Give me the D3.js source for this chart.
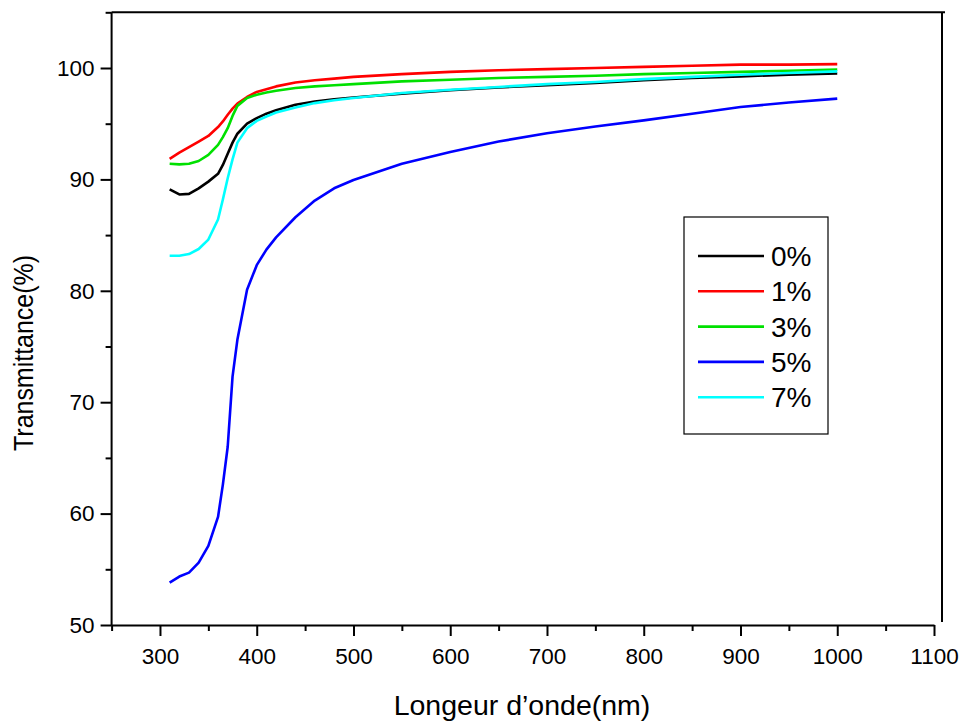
<!DOCTYPE html>
<html>
<head>
<meta charset="utf-8">
<script src="https://cdn.jsdelivr.net/npm/d3@7"></script>
<style>
  html, body { margin: 0; padding: 0; background: #fff; }
  svg text { font-family: "Liberation Sans", Arial, sans-serif; fill: #000; }
</style>
</head>
<body>
<div id="chart"></div>
<script>
// wavelengths (nm), shared by every sample
const wavelengths = [310, 320, 330, 340, 350, 360, 365, 370, 375, 380, 390, 400, 410, 420,
    440, 460, 480, 500, 550, 600, 650, 700, 750, 800, 850, 900, 950, 1000];

// transmittance (%)
const t0 = [89.1, 88.65, 88.7, 89.2, 89.8, 90.5, 91.3, 92.3, 93.3, 94.1, 95.0, 95.5, 95.9, 96.2,
    96.7, 97.0, 97.2, 97.35, 97.7, 98.0, 98.25, 98.45, 98.65, 98.9, 99.1, 99.25, 99.4, 99.5];
const t1 = [91.85, 92.4, 92.9, 93.4, 93.9, 94.7, 95.2, 95.8, 96.35, 96.8, 97.4, 97.85, 98.1, 98.35,
    98.7, 98.9, 99.05, 99.2, 99.45, 99.65, 99.8, 99.9, 100.0, 100.1, 100.2, 100.3, 100.3, 100.35];
const t3 = [91.4, 91.35, 91.4, 91.65, 92.2, 93.1, 93.8, 94.6, 95.7, 96.6, 97.3, 97.6, 97.8, 97.95,
    98.2, 98.35, 98.45, 98.55, 98.8, 98.95, 99.1, 99.2, 99.3, 99.45, 99.55, 99.65, 99.75, 99.85];
const t5 = [53.8, 54.35, 54.7, 55.6, 57.1, 59.7, 62.6, 66.0, 72.3, 75.6, 80.1, 82.3, 83.7, 84.8,
    86.6, 88.1, 89.2, 89.95, 91.4, 92.45, 93.4, 94.15, 94.75, 95.3, 95.9, 96.5, 96.9, 97.25];
const t7 = [83.15, 83.15, 83.3, 83.75, 84.6, 86.4, 88.2, 90.1, 91.8, 93.3, 94.6, 95.25, 95.65, 96.0,
    96.45, 96.85, 97.1, 97.3, 97.75, 98.05, 98.3, 98.55, 98.75, 99.0, 99.2, 99.4, 99.55, 99.7];

const seriesNames = ["0%", "1%", "3%", "5%", "7%"];
const seriesColors = ["#000000", "#ff0000", "#00e000", "#0000ff", "#00ffff"];
const seriesValues = [t0, t1, t3, t5, t7];

const xMajorTicks = [300, 400, 500, 600, 700, 800, 900, 1000, 1100];
const xMinorTicks = [250, 350, 450, 550, 650, 750, 850, 950, 1050];
const yMajorTicks = [50, 60, 70, 80, 90, 100];
const yMinorTicks = [55, 65, 75, 85, 95, 105];

(function () {
    const W = 965, H = 723;
    const left = 111.6, right = 934, top = 12.3, bottom = 625;

    const svg = d3.select("#chart").append("svg")
        .attr("width", W)
        .attr("height", H);

    const x = d3.scaleLinear().domain([250, 1100]).range([left, right]);
    const y = d3.scaleLinear().domain([50, 105]).range([bottom, top]);

    // frame lines on top / right (slightly offset, like the original export)
    svg.append("line")
        .attr("x1", left).attr("x2", 945)
        .attr("y1", top).attr("y2", top)
        .attr("stroke", "#000").attr("stroke-width", 2);
    svg.append("line")
        .attr("x1", 942).attr("x2", 942)
        .attr("y1", top).attr("y2", 622)
        .attr("stroke", "#000").attr("stroke-width", 2);

    // x axis
    svg.append("g")
        .attr("transform", `translate(0,${bottom})`)
        .call(d3.axisBottom(x).tickValues(xMajorTicks).tickFormat(d3.format("d"))
            .tickSize(11).tickSizeOuter(0).tickPadding(12));
    svg.append("g")
        .attr("transform", `translate(0,${bottom})`)
        .call(d3.axisBottom(x).tickValues(xMinorTicks).tickSize(6).tickSizeOuter(0).tickFormat(""))
        .select(".domain").remove();

    // y axis
    const yAxis = svg.append("g")
        .attr("transform", `translate(${left},0)`)
        .call(d3.axisLeft(y).tickValues(yMajorTicks).tickFormat(d3.format("d"))
            .tickSize(11).tickSizeOuter(0).tickPadding(6));
    svg.append("g")
        .attr("transform", `translate(${left},0)`)
        .call(d3.axisLeft(y).tickValues(yMinorTicks).tickSize(6).tickSizeOuter(0).tickFormat(""))
        .select(".domain").remove();

    svg.selectAll(".domain")
        .attr("stroke", "#000")
        .attr("stroke-width", 2);
    svg.selectAll(".tick line")
        .attr("stroke", "#000")
        .attr("stroke-width", 2);
    svg.selectAll(".tick text")
        .style("font-family", "'Liberation Sans', Arial, sans-serif")
        .style("font-size", "22.5px")
        .attr("fill", "#000");
    yAxis.select(".domain").attr("d", `M0,${bottom}V${top}`);

    // axis titles
    svg.append("text")
        .attr("x", 522)
        .attr("y", 715)
        .attr("text-anchor", "middle")
        .style("font-size", "28.5px")
        .text("Longeur d\u2019onde(nm)");

    svg.append("text")
        .attr("transform", "translate(33,353) rotate(-90)")
        .attr("text-anchor", "middle")
        .attr("textLength", 196)
        .attr("lengthAdjust", "spacingAndGlyphs")
        .style("font-size", "27px")
        .text("Transmittance(%)");

    // curves
    const line = d3.line()
        .x((d, i) => x(wavelengths[i]))
        .y(d => y(d));

    svg.append("g")
        .selectAll("path")
        .data(seriesValues)
        .enter()
        .append("path")
        .attr("d", d => line(d))
        .attr("fill", "none")
        .attr("stroke", (d, i) => seriesColors[i])
        .attr("stroke-width", 2.6)
        .attr("stroke-linejoin", "round");

    // legend
    const legend = svg.append("g").attr("transform", "translate(684,217)");
    legend.append("rect")
        .attr("width", 144)
        .attr("height", 217)
        .attr("fill", "#fff")
        .attr("stroke", "#000")
        .attr("stroke-width", 1.2);

    const items = legend.selectAll(".legend-item")
        .data(seriesNames)
        .enter()
        .append("g")
        .attr("class", "legend-item")
        .attr("transform", (d, i) => `translate(0,${39 + i * 35.3})`);

    items.append("line")
        .attr("x1", 14).attr("x2", 80)
        .attr("stroke", (d, i) => seriesColors[i])
        .attr("stroke-width", 2.6);

    items.append("text")
        .attr("x", 87)
        .attr("dy", "0.36em")
        .style("font-size", "28px")
        .text(d => d);
})();
</script>
</body>
</html>
